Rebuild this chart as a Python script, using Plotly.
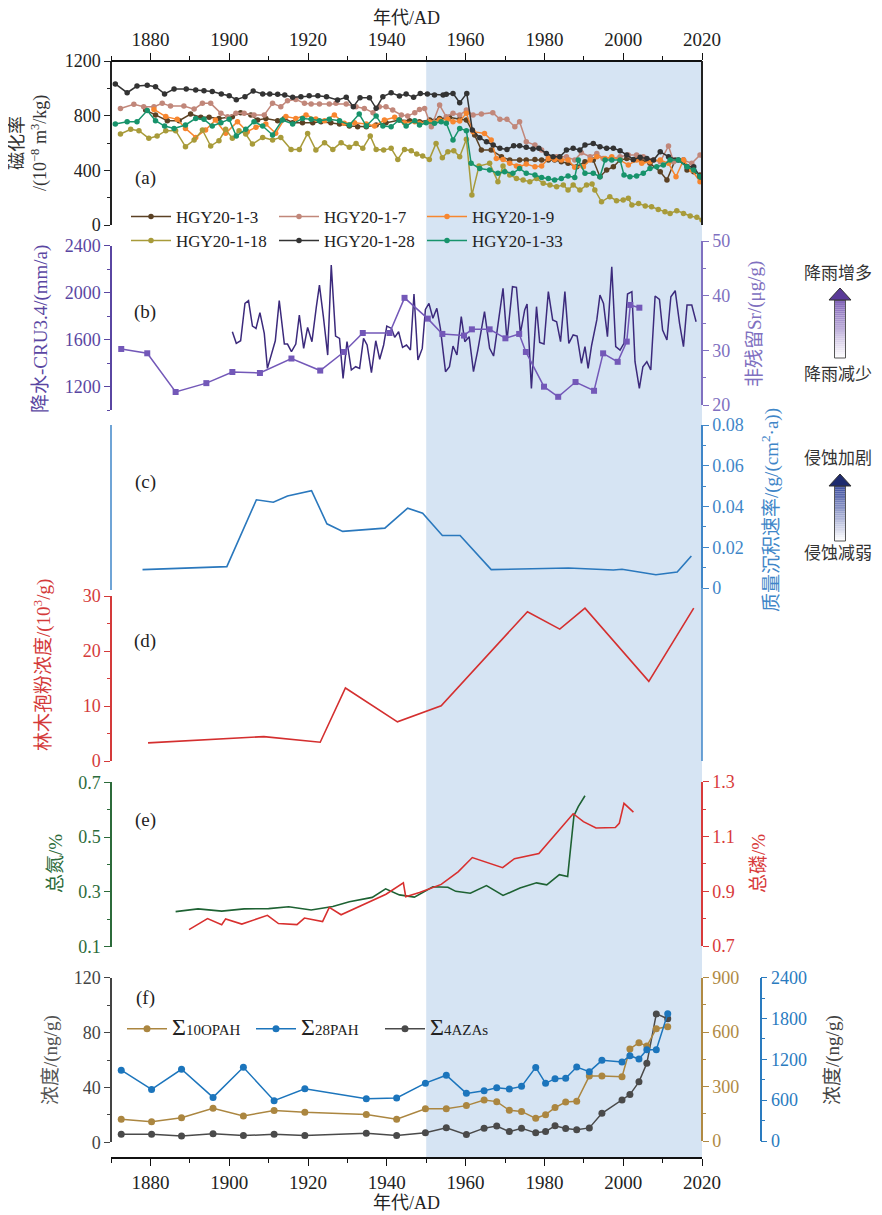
import plotly.graph_objects as go

# ---------------- DATA ----------------
# (a) magnetic susceptibility (10^-8 m3/kg)
a3_year = [1878.8, 1881.3, 1884.3, 1887.3, 1890.2, 1892.8, 1894.9, 1897.4, 1900.8, 1902.9, 1905.5, 1907.2, 1909.3, 1912.3, 1914.0, 1916.1, 1918.6, 1921.2, 1923.3, 1925.8, 1928.0, 1930.5, 1932.6, 1934.8, 1937.3, 1939.8, 1943.2, 1945.8, 1948.3, 1950.9, 1953.4, 1955.9, 1958.5, 1960.2, 1962.3, 1964.0, 1966.5, 1969.1, 1971.2, 1973.7, 1975.4, 1977.6, 1979.3, 1981.0, 1982.6, 1984.3, 1986.0, 1988.2, 1990.3, 1992.4, 1994.1, 1995.8, 1997.5, 1999.2, 2000.9, 2002.6, 2004.7, 2006.8, 2009.4, 2011.1, 2013.2, 2015.3, 2016.2, 2017.9, 2019.5]
a3_val = [841, 805, 763, 763, 812, 788, 788, 780, 792, 822, 805, 768, 780, 763, 780, 749, 749, 749, 756, 749, 739, 724, 719, 719, 732, 749, 768, 763, 756, 768, 780, 788, 773, 768, 658, 548, 548, 500, 475, 475, 475, 480, 475, 475, 475, 463, 451, 426, 463, 475, 353, 402, 426, 475, 487, 475, 475, 451, 390, 329, 475, 475, 402, 390, 366]

a7_year = [1872.4, 1875.8, 1878.3, 1880.9, 1883.0, 1885.1, 1888.5, 1891.1, 1893.2, 1895.3, 1897.9, 1899.6, 1901.7, 1903.8, 1906.3, 1908.9, 1911.0, 1913.1, 1914.8, 1916.9, 1919.1, 1920.8, 1922.9, 1925.4, 1927.1, 1929.7, 1932.2, 1934.3, 1936.5, 1938.1, 1939.8, 1941.5, 1943.7, 1945.3, 1947.1, 1948.3, 1949.6, 1951.3, 1953.4, 1955.1, 1956.8, 1958.5, 1960.2, 1961.9, 1964.0, 1966.9, 1968.7, 1970.5, 1972.5, 1973.7, 1975.4, 1977.6, 1979.3, 1981.0, 1983.1, 1985.6, 1987.7, 1989.4, 1991.6, 1993.3, 1994.9, 1997.1, 1999.2, 2001.3, 2003.4, 2005.1, 2007.7, 2009.4, 2011.5, 2012.8, 2015.3, 2017.4, 2019.5]
a7_val = [853, 883, 866, 866, 890, 870, 870, 848, 890, 890, 817, 792, 817, 817, 805, 805, 890, 866, 909, 919, 890, 885, 885, 885, 890, 885, 866, 853, 822, 866, 866, 841, 805, 797, 822, 846, 853, 719, 878, 792, 817, 805, 841, 805, 812, 822, 773, 773, 719, 756, 609, 585, 548, 500, 500, 500, 475, 529, 500, 524, 487, 487, 500, 512, 512, 500, 475, 463, 578, 463, 475, 451, 512]

a9_year = [1880.9, 1883.9, 1886.8, 1888.9, 1891.5, 1894.0, 1896.5, 1899.1, 1902.1, 1904.6, 1906.8, 1909.3, 1911.8, 1914.4, 1916.9, 1919.5, 1922.0, 1924.2, 1926.7, 1929.2, 1931.8, 1934.8, 1936.9, 1939.4, 1942.0, 1944.5, 1947.1, 1948.3, 1950.8, 1953.4, 1955.5, 1956.8, 1958.5, 1960.2, 1961.9, 1964.8, 1966.5, 1967.8, 1969.5, 1971.2, 1972.9, 1973.7, 1975.4, 1977.6, 1979.3, 1981.0, 1982.6, 1984.3, 1986.0, 1987.7, 1989.9, 1991.6, 1993.3, 1995.4, 1997.1, 1999.2, 2001.3, 2003.4, 2004.7, 2006.8, 2009.4, 2011.5, 2013.4, 2015.3, 2017.4, 2019.5]
a9_val = [846, 793, 773, 707, 641, 695, 768, 671, 756, 683, 715, 739, 671, 793, 780, 805, 776, 763, 805, 744, 749, 739, 724, 768, 788, 749, 756, 744, 756, 768, 773, 756, 761, 817, 683, 670, 622, 487, 480, 451, 431, 427, 446, 427, 431, 487, 480, 475, 475, 422, 427, 475, 500, 487, 500, 475, 439, 475, 451, 463, 475, 451, 353, 475, 402, 317]

a18_year = [1872.4, 1875.0, 1877.1, 1879.6, 1881.7, 1883.9, 1886.4, 1888.9, 1891.1, 1893.2, 1895.3, 1897.4, 1899.1, 1900.8, 1902.5, 1904.2, 1905.9, 1908.5, 1911.0, 1913.1, 1915.7, 1917.8, 1919.9, 1922.0, 1924.2, 1926.3, 1928.4, 1930.5, 1932.2, 1933.9, 1935.8, 1937.3, 1939.2, 1941.1, 1942.8, 1944.5, 1946.2, 1947.6, 1949.1, 1950.8, 1952.5, 1954.1, 1955.5, 1957.0, 1958.5, 1960.2, 1961.6, 1963.4, 1966.1, 1968.2, 1969.5, 1971.2, 1972.9, 1974.6, 1976.3, 1978.0, 1979.7, 1981.4, 1983.1, 1984.8, 1986.0, 1987.3, 1989.0, 1990.7, 1992.1, 1992.8, 1994.5, 1996.6, 1998.3, 2000.0, 2001.3, 2002.2, 2003.9, 2005.6, 2007.2, 2008.9, 2010.6, 2011.9, 2013.6, 2015.3, 2017.0, 2018.7, 2020.0]
a18_val = [666, 700, 690, 634, 651, 690, 690, 573, 622, 695, 578, 617, 700, 634, 690, 666, 592, 641, 622, 641, 553, 553, 670, 548, 602, 553, 602, 568, 597, 561, 651, 553, 548, 561, 480, 553, 544, 519, 505, 480, 597, 492, 536, 544, 500, 627, 219, 431, 451, 317, 431, 366, 341, 329, 317, 341, 305, 292, 280, 292, 256, 292, 256, 292, 300, 256, 170, 207, 178, 183, 195, 146, 158, 139, 134, 114, 97, 85, 105, 85, 66, 56, 36]

a28_year = [1871.1, 1874.1, 1876.6, 1879.2, 1881.3, 1883.6, 1886.0, 1889.1, 1891.5, 1893.6, 1895.7, 1898.0, 1900.0, 1901.8, 1904.0, 1906.1, 1908.5, 1910.3, 1912.3, 1914.1, 1916.1, 1918.2, 1920.3, 1922.5, 1924.7, 1927.5, 1929.7, 1931.5, 1933.2, 1935.6, 1937.3, 1939.0, 1941.1, 1943.2, 1944.9, 1946.8, 1948.5, 1950.3, 1952.1, 1954.3, 1955.1, 1956.8, 1958.5, 1960.3, 1961.7, 1963.6, 1965.3, 1967.0, 1968.7, 1970.5, 1972.2, 1973.7, 1975.4, 1977.1, 1978.6, 1980.5, 1982.2, 1983.9, 1985.6, 1987.3, 1989.0, 1990.3, 1992.4, 1994.1, 1995.8, 1997.5, 1999.2, 2000.9, 2002.6, 2004.3, 2006.0, 2007.7, 2009.4, 2011.5, 2014.0, 2016.2, 2017.9, 2019.5]
a28_val = [1032, 968, 1017, 1022, 1012, 959, 995, 995, 988, 983, 976, 959, 946, 917, 939, 980, 959, 959, 956, 951, 934, 939, 946, 946, 939, 915, 934, 866, 932, 932, 854, 939, 968, 944, 959, 934, 963, 959, 951, 951, 956, 963, 895, 963, 695, 639, 609, 585, 561, 553, 580, 580, 568, 556, 561, 524, 500, 500, 548, 561, 548, 585, 597, 573, 561, 561, 544, 512, 480, 495, 487, 475, 536, 500, 475, 426, 426, 353]

a33_year = [1871.1, 1874.1, 1876.6, 1879.2, 1881.3, 1883.6, 1886.0, 1888.9, 1891.5, 1893.6, 1895.7, 1897.9, 1900.0, 1901.8, 1904.2, 1906.3, 1908.5, 1911.0, 1913.5, 1916.1, 1918.6, 1920.8, 1922.9, 1925.4, 1928.0, 1930.5, 1933.0, 1934.8, 1937.3, 1939.0, 1941.1, 1943.1, 1944.9, 1947.1, 1948.3, 1950.0, 1952.1, 1953.8, 1955.1, 1956.8, 1958.5, 1960.2, 1961.4, 1963.6, 1966.1, 1968.2, 1969.9, 1972.0, 1973.7, 1975.4, 1977.6, 1979.3, 1981.0, 1982.6, 1984.3, 1986.0, 1987.7, 1988.6, 1990.3, 1992.4, 1994.1, 1995.4, 1997.1, 1999.2, 2000.2, 2001.7, 2003.4, 2005.1, 2006.8, 2008.5, 2010.2, 2011.9, 2014.0, 2016.2, 2017.9, 2019.5]
a33_val = [739, 756, 756, 837, 763, 724, 707, 732, 780, 773, 724, 749, 773, 651, 700, 756, 724, 659, 768, 739, 780, 773, 763, 773, 763, 732, 812, 724, 797, 724, 719, 768, 724, 763, 731, 748, 744, 756, 744, 622, 707, 690, 451, 414, 402, 378, 390, 378, 414, 378, 366, 348, 341, 329, 341, 358, 348, 475, 378, 378, 353, 475, 475, 475, 366, 353, 358, 378, 414, 427, 439, 475, 475, 426, 402, 353]

a_names = ["HGY20-1-3", "HGY20-1-7", "HGY20-1-9", "HGY20-1-18", "HGY20-1-28", "HGY20-1-33"]

# (b) precipitation CRU3.4 (mm/a) and non-residual Sr (ug/g)
precip_year = [1900.8, 1901.8, 1902.9, 1904.0, 1904.9, 1905.9, 1906.8, 1907.8, 1908.9, 1909.7, 1911.7, 1912.7, 1914.0, 1914.8, 1915.8, 1916.9, 1917.8, 1918.9, 1919.9, 1921.0, 1922.1, 1922.9, 1923.9, 1925.0, 1925.9, 1927.0, 1928.0, 1928.9, 1929.9, 1931.0, 1932.1, 1933.1, 1934.1, 1935.0, 1936.1, 1937.2, 1938.2, 1939.2, 1940.0, 1941.2, 1942.0, 1943.0, 1944.0, 1945.0, 1946.0, 1946.9, 1947.9, 1949.0, 1949.8, 1950.7, 1951.7, 1952.7, 1953.6, 1954.9, 1955.9, 1956.8, 1957.8, 1958.9, 1959.8, 1960.9, 1962.0, 1963.1, 1964.8, 1966.1, 1967.1, 1968.2, 1969.5, 1970.5, 1971.9, 1972.9, 1973.9, 1975.0, 1975.6, 1976.7, 1978.0, 1978.8, 1979.9, 1981.0, 1982.1, 1983.1, 1984.1, 1985.2, 1986.2, 1987.3, 1988.3, 1989.4, 1990.3, 1991.1, 1992.0, 1993.3, 1994.1, 1995.0, 1996.0, 1997.1, 1998.1, 1999.2, 2000.2, 2001.1, 2002.2, 2003.0, 2004.1, 2005.0, 2006.0, 2007.0, 2008.1, 2009.2, 2010.0, 2011.1, 2012.1, 2013.2, 2014.3, 2015.3, 2016.2, 2017.4, 2018.5]
precip_val = [1668, 1569, 1591, 1909, 1932, 1716, 1696, 1830, 1654, 1356, 1591, 1932, 1563, 1563, 1498, 1563, 1810, 1526, 1705, 1583, 1875, 2065, 1796, 1469, 2235, 1631, 1611, 1271, 1583, 1342, 1370, 1356, 1611, 1555, 1319, 1591, 1433, 1555, 1716, 1696, 1620, 1668, 1535, 1555, 1512, 1989, 1427, 1526, 1858, 1909, 1782, 1867, 1697, 1328, 1370, 1546, 1470, 1796, 1583, 1626, 1328, 1512, 1839, 1526, 1461, 1711, 2037, 1592, 2051, 2046, 1654, 1853, 1904, 1186, 1881, 1577, 1563, 2009, 1768, 1753, 1583, 2009, 1569, 1640, 1631, 1399, 1541, 1356, 1555, 1768, 1980, 1909, 1626, 2221, 1541, 1512, 1569, 1989, 2009, 1413, 1186, 1370, 1413, 1342, 1972, 1944, 1682, 1597, 1966, 2017, 1739, 1541, 1895, 1895, 1753]
sr_year = [1872.6, 1879.2, 1886.4, 1894.2, 1900.8, 1907.8, 1915.8, 1923.1, 1929.1, 1933.9, 1940.7, 1944.5, 1950.4, 1954.1, 1959.6, 1961.6, 1966.1, 1970.1, 1973.6, 1975.3, 1979.9, 1983.5, 1987.9, 1992.6, 1994.9, 1998.6, 2000.9, 2001.8, 2004.1]
sr_val = [30.25, 29.46, 22.38, 24.0, 26.04, 25.85, 28.5, 26.3, 29.7, 33.17, 33.17, 39.6, 35.8, 33.0, 32.7, 33.84, 33.84, 32.2, 33.0, 29.7, 23.35, 21.5, 24.2, 22.6, 29.45, 27.9, 31.6, 38.3, 37.8]

# (c) mass accumulation rate g/(cm2 a)
mar_year = [1878.0, 1899.4, 1906.9, 1911.2, 1914.8, 1920.9, 1924.8, 1928.8, 1939.5, 1945.3, 1949.1, 1954.1, 1958.6, 1966.5, 1986.1, 1997.5, 1999.7, 2008.3, 2013.7, 2017.3]
mar_val = [0.0090, 0.0105, 0.0433, 0.0421, 0.0452, 0.0478, 0.0315, 0.0278, 0.0294, 0.0392, 0.0367, 0.0258, 0.0258, 0.0090, 0.0098, 0.0088, 0.0092, 0.0065, 0.0078, 0.0157]

# (d) arboreal pollen concentration (10^3/g)
pollen_year = [1879.4, 1908.8, 1923.1, 1929.5, 1942.7, 1953.8, 1975.7, 1983.9, 1990.3, 2006.5, 2017.9]
pollen_val = [3.29, 4.44, 3.41, 13.27, 7.12, 10.04, 27.15, 23.98, 27.8, 14.49, 27.8]

# (e) total nitrogen (%) and total phosphorus (%)
tn_year = [1886.4, 1892.1, 1898.1, 1903.8, 1910.0, 1915.1, 1920.8, 1926.3, 1930.5, 1936.3, 1939.7, 1943.2, 1947.0, 1951.7, 1955.5, 1957.5, 1961.2, 1965.3, 1969.5, 1973.8, 1978.0, 1980.6, 1983.8, 1985.9, 1987.5, 1988.6, 1990.3]
tn_val = [0.228, 0.238, 0.230, 0.238, 0.239, 0.246, 0.234, 0.247, 0.264, 0.280, 0.311, 0.289, 0.281, 0.319, 0.317, 0.302, 0.295, 0.323, 0.287, 0.314, 0.333, 0.326, 0.363, 0.356, 0.578, 0.611, 0.651]
tp_year = [1889.8, 1894.5, 1898.1, 1899.1, 1903.2, 1909.7, 1912.5, 1917.2, 1919.1, 1923.7, 1925.4, 1928.4, 1939.8, 1944.2, 1944.8, 1948.3, 1953.8, 1958.1, 1961.7, 1969.4, 1972.4, 1978.6, 1987.3, 1989.9, 1993.1, 1998.0, 1999.0, 2000.2, 2002.6]
tp_val = [0.760, 0.800, 0.778, 0.799, 0.780, 0.812, 0.782, 0.778, 0.802, 0.789, 0.841, 0.814, 0.889, 0.931, 0.880, 0.895, 0.925, 0.971, 1.023, 0.986, 1.019, 1.038, 1.183, 1.154, 1.131, 1.133, 1.148, 1.221, 1.189]

# (f) concentrations (ng/g)
f_year = [1872.6, 1880.3, 1887.9, 1895.9, 1903.6, 1911.4, 1919.2, 1934.8, 1942.5, 1949.8, 1955.1, 1960.2, 1964.7, 1967.9, 1971.1, 1974.2, 1977.8, 1980.3, 1982.7, 1985.4, 1988.2, 1991.4, 1994.6, 1999.7, 2001.7, 2004.0, 2006.0, 2008.4, 2011.3]
opah_val = [120, 106, 128, 180, 138, 168, 158, 146, 120, 178, 178, 195, 226, 217, 169, 163, 125, 145, 184, 215, 219, 358, 358, 354, 507, 542, 523, 619, 630]
pah_val = [1040, 758, 1054, 641, 1083, 593, 767, 622, 632, 850, 967, 700, 740, 784, 764, 803, 1082, 847, 916, 921, 1087, 1019, 1185, 1161, 1254, 1205, 1342, 1342, 1871]
aza_val = [5.8, 5.8, 4.6, 6.3, 4.9, 5.8, 4.9, 6.6, 4.9, 7.0, 10.6, 5.6, 10.3, 11.8, 7.8, 10.3, 6.9, 7.8, 12.0, 10.0, 9.1, 10.5, 21.1, 30.9, 34.8, 44.1, 57.6, 93.6, 90.1]

x_ticks = [1880, 1900, 1920, 1940, 1960, 1980, 2000, 2020]
shade_start, shade_end = 1950, 2020

# ---------------- LAYOUT GEOMETRY ----------------
# page body has an 8px margin; the figure is sized to end at the window edges
OFF = 8
FW, FH = 882 - 2 * OFF, 1215 - OFF
ML, MT = 111 - OFF, 61 - OFF
PW = 731
MR = FW - ML - PW
YB = 1158 - OFF
MB = FH - YB
PH = FH - MT - MB


def px(x):
    return (x - OFF - ML) / PW


def py(y):
    return (YB - (y - OFF)) / PH


def dom(ytop, ybot):
    return [py(ybot), py(ytop)]


XD = px(702)
FONT = "Liberation Serif, Noto Sans CJK SC, serif"

fig = go.Figure()


def add(x, y, yaxis, color, marker=None, size=5, width=1.5, name=None, legend=None):
    tr = dict(x=x, y=y, xaxis="x", yaxis=yaxis, line=dict(color=color, width=width),
              hoverinfo="skip", showlegend=name is not None)
    if marker:
        tr["mode"] = "lines+markers"
        tr["marker"] = dict(symbol=marker, size=size, color=color, line=dict(width=0))
    else:
        tr["mode"] = "lines"
    if name is not None:
        tr["name"] = name
        tr["legend"] = legend
    fig.add_trace(go.Scatter(**tr))


a_colors = ["#5b4124", "#c1877a", "#f7862f", "#a89b3a", "#333333", "#17936b"]
a_data = [(a3_year, a3_val), (a7_year, a7_val), (a9_year, a9_val),
          (a18_year, a18_val), (a28_year, a28_val), (a33_year, a33_val)]
for i, (nm, (xx, yy), c) in enumerate(zip(a_names, a_data, a_colors)):
    add(xx, yy, "y", c, marker="circle", size=5.5, width=1.5, name=nm,
        legend="legend" if i < 3 else "legend2")

add(precip_year, precip_val, "y2", "#3c2a7c", width=1.5)
add(sr_year, sr_val, "y3", "#7358b8", marker="square", size=6, width=1.5)
add(mar_year, mar_val, "y4", "#2a78bd", width=1.6)
add(pollen_year, pollen_val, "y5", "#d42f2f", width=1.6)
add(tn_year, tn_val, "y6", "#1e6233", width=1.6)
add(tp_year, tp_val, "y7", "#d8302f", width=1.6)
add(f_year, opah_val, "y9", "#ab8640", marker="circle", size=7, width=1.5,
    name="<span style='font-size:24px'>Σ</span>10OPAH", legend="legend3")
add(f_year, pah_val, "y10", "#1c75bc", marker="circle", size=7, width=1.5,
    name="<span style='font-size:24px'>Σ</span>28PAH", legend="legend3")
add(f_year, aza_val, "y8", "#4a4a4a", marker="circle", size=7, width=1.5,
    name="<span style='font-size:24px'>Σ</span>4AZAs", legend="legend3")

# dummy trace so the top x axis exists
fig.add_trace(go.Scatter(x=[1870], y=[None], xaxis="x2", yaxis="y", showlegend=False,
                         hoverinfo="skip", mode="markers"))


def xax(side, pos):
    return dict(domain=[0, XD], range=[1870, 2020], anchor="free", position=pos, side=side,
                showline=True, linecolor="#111", linewidth=1.5, ticks="outside", ticklen=7,
                tickwidth=1.3, tickcolor="#111", tickvals=x_ticks,
                minor=dict(dtick=10, tick0=1870, ticks="outside", ticklen=4, tickwidth=1.2,
                           tickcolor="#111"),
                tickfont=dict(family=FONT, size=19, color="#222"), showgrid=False,
                zeroline=False, automargin=False, fixedrange=True)


def yax(d, rng, dtick, minor, color, side="left", pos=0.0, tick0=0):
    return dict(domain=d, range=rng, tick0=tick0, dtick=dtick, anchor="free", position=pos,
                side=side, showline=True, linecolor=color, linewidth=1.5, ticks="outside",
                ticklen=6, tickwidth=1.3, tickcolor=color,
                minor=dict(dtick=minor, tick0=tick0, ticks="outside", ticklen=3.5,
                           tickwidth=1.2, tickcolor=color),
                tickfont=dict(family=FONT, size=18, color=color), showgrid=False,
                zeroline=False, automargin=False, fixedrange=True)


xa = xax("bottom", 0)
xa2 = xax("top", 1)
xa2["overlaying"] = "x"

C_B1, C_B2 = "#5a46a2", "#8070c0"
C_C = "#3f86c8"
C_D = "#d43a3a"
C_E1, C_E2 = "#2c6b3a", "#d83a3a"
C_F1, C_F2, C_F3 = "#444444", "#b08a43", "#2a7bbf"

layout_axes = dict(
    xaxis=xa, xaxis2=xa2,
    yaxis=yax(dom(61, 225), [0, 1200], 400, 200, "#222"),
    yaxis2=yax(dom(245.7, 410.2), [1000, 2400], 400, 200, C_B1),
    yaxis3=yax(dom(241, 405), [20, 50], 10, 5, C_B2, side="right", pos=XD),
    yaxis4=yax(dom(425, 588), [0, 0.08], 0.02, 0.01, C_C, side="right", pos=XD),
    yaxis5=yax(dom(596, 761), [0, 30], 10, 5, C_D),
    yaxis6=yax(dom(782.3, 946.7), [0.1, 0.7], 0.2, 0.1, C_E1, tick0=0.1),
    yaxis7=yax(dom(781.7, 946), [0.7, 1.3], 0.2, 0.1, C_E2, side="right", pos=XD, tick0=0.7),
    yaxis8=yax(dom(977.7, 1142.3), [0, 120], 40, 20, C_F1),
    yaxis9=yax(dom(977.7, 1141), [0, 900], 300, 150, C_F2, side="right", pos=XD),
    yaxis10=yax(dom(977.7, 1141), [0, 2400], 600, 300, C_F3, side="right", pos=px(760.7)),
)

# ---------------- SHAPES ----------------
shapes = [
    dict(type="rect", xref="x", yref="paper", x0=shade_start, x1=shade_end, y0=0, y1=1,
         fillcolor="#d6e4f3", line=dict(width=0), layer="below"),
    dict(type="line", xref="paper", yref="paper", x0=XD, x1=XD, y0=py(61), y1=py(225),
         line=dict(color="#222", width=2)),
    dict(type="line", xref="paper", yref="paper", x0=0, x1=0, y0=py(425), y1=py(590),
         line=dict(color=C_C, width=1.5)),
    dict(type="line", xref="paper", yref="paper", x0=XD, x1=XD, y0=py(588), y1=py(761),
         line=dict(color=C_C, width=1.5)),
]


def hx(c):
    c = c.lstrip("#")
    return [int(c[i:i + 2], 16) for i in (0, 2, 4)]


def mix(c1, c2, f):
    a, b = hx(c1), hx(c2)
    return "rgb(%d,%d,%d)" % tuple(round(a[i] + (b[i] - a[i]) * f) for i in range(3))


def arrow(xc, y_tip, y_base, y_bot, head_color, top_color):
    n = 30
    out = []
    for i in range(n):
        t0 = y_base + (y_bot - y_base) * i / n
        t1 = y_base + (y_bot - y_base) * (i + 1) / n
        out.append(dict(type="rect", xref="paper", yref="paper", x0=px(xc - 5.5),
                        x1=px(xc + 5.5), y0=py(t1), y1=py(t0),
                        fillcolor=mix(top_color, "#ffffff", (i + 0.5) / n),
                        line=dict(width=0)))
    out.append(dict(type="rect", xref="paper", yref="paper", x0=px(xc - 5.5), x1=px(xc + 5.5),
                    y0=py(y_bot), y1=py(y_base), line=dict(color="#555", width=1)))
    path = "M %f,%f L %f,%f L %f,%f Z" % (px(xc - 11), py(y_base), px(xc + 11), py(y_base),
                                          px(xc), py(y_tip))
    out.append(dict(type="path", xref="paper", yref="paper", path=path, fillcolor=head_color,
                    line=dict(color="#333", width=1)))
    return out


shapes += arrow(840, 288, 300, 358, "#5a3a98", "#7d5fb5")
shapes += arrow(840, 474, 486, 541, "#1e2b6e", "#3b4c9e")

# ---------------- ANNOTATIONS ----------------
ann = []


def txt(x, y, s, color="#222", size=18, angle=0):
    ann.append(dict(xref="paper", yref="paper", x=px(x), y=py(y), text=s, showarrow=False,
                    xanchor="center", yanchor="middle", textangle=angle,
                    font=dict(family=FONT, size=size, color=color)))


txt(406, 18, "年代/AD", size=18)
txt(406, 1203, "年代/AD", size=18)
txt(29, 143, "磁化率<br>/(10<sup>−8</sup> m<sup>3</sup>/kg)", "#333", 18, -90)
txt(41, 329, "降水-CRU3.4/(mm/a)", C_B1, 19, -90)
txt(755, 324, "非残留Sr/(μg/g)", C_B2, 19, -90)
txt(770, 510, "质量沉积速率/(g/(cm<sup>2</sup>·a))", C_C, 19, -90)
txt(42, 665, "林木孢粉浓度/(10<sup>3</sup>/g)", C_D, 19, -90)
txt(55, 864, "总氮/%", C_E1, 19, -90)
txt(758, 864, "总磷/%", C_E2, 19, -90)
txt(51, 1060, "浓度/(ng/g)", "#555", 19, -90)
txt(833, 1060, "浓度/(ng/g)", "#444", 19, -90)
for lab, yy in [("(a)", 178), ("(b)", 312), ("(c)", 482), ("(d)", 641), ("(e)", 820), ("(f)", 998)]:
    txt(145, yy, lab, "#222", 19)
txt(838, 273, "降雨增多", "#333", 17)
txt(838, 374, "降雨减少", "#333", 17)
txt(838, 458, "侵蚀加剧", "#333", 17)
txt(838, 553, "侵蚀减弱", "#333", 17)


def leg(x, y, ew, size):
    return dict(x=px(x), y=py(y), xanchor="left", yanchor="middle", orientation="h",
                bgcolor="rgba(0,0,0,0)", borderwidth=0, entrywidth=ew, entrywidthmode="pixels",
                itemwidth=40, font=dict(family=FONT, size=size, color="#222"),
                tracegroupgap=0, itemclick=False, itemdoubleclick=False)


fig.update_layout(
    width=FW, height=FH, margin=dict(l=ML, r=MR, t=MT, b=MB, autoexpand=False),
    paper_bgcolor="white", plot_bgcolor="rgba(0,0,0,0)",
    font=dict(family=FONT, size=17, color="#222"),
    shapes=shapes, annotations=ann,
    legend=leg(126, 217, 93, 17), legend2=leg(126, 241, 93, 17),
    legend3=leg(122, 1029, 74, 15),
    **layout_axes,
)

fig.write_html("out.html")
